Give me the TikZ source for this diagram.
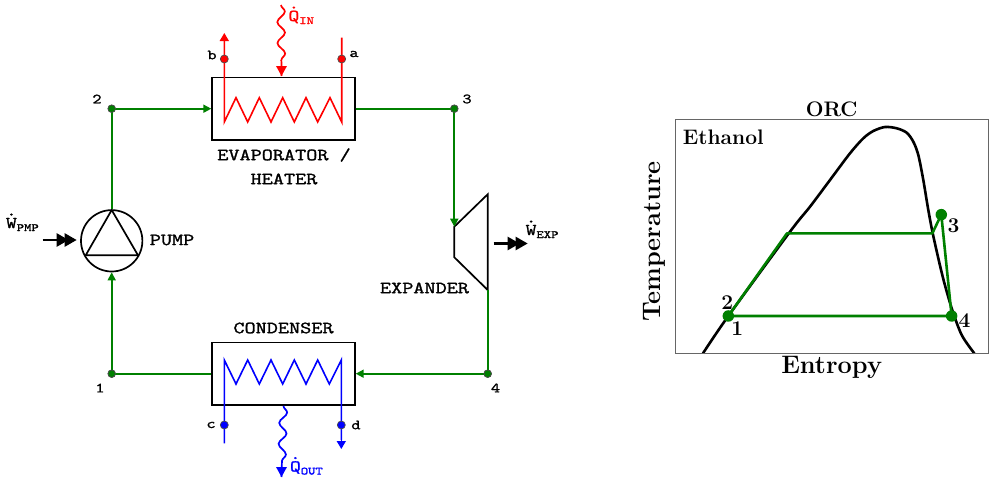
\documentclass[tikz,border=0pt]{standalone}
\usepackage{fontspec}
\usetikzlibrary{arrows.meta,decorations.pathmorphing,calc}
\newfontfamily\ttbold[FakeBold=1.6,FakeStretch=1.27]{Latin Modern Mono}
\definecolor{gflow}{RGB}{0,128,0}
\definecolor{redf}{RGB}{255,0,0}
\definecolor{bluef}{RGB}{0,0,255}
\newcommand{\ttl}[1]{{\fontsize{17}{19}\ttbold #1}}
\newcommand{\tts}[1]{{\fontsize{14}{16}\ttbold #1}}
\newcommand{\qtylab}[2]{{\fontsize{16.5}{18}\ttbold\ooalign{#1\cr\hidewidth\raisebox{12.5pt}{.}\hidewidth\cr}}\raisebox{-3pt}{\fontsize{11}{12}\ttbold #2}}
\tikzset{
 lbl/.style={inner sep=0pt,outer sep=0pt},
 qlbl/.style={lbl,anchor=base west},
 comp/.style={draw=black,line width=1.7pt,line join=miter},
 flow/.style={draw=gflow,line width=1.7pt},
 farrow/.style={flow,-{Triangle[length=8pt,width=8pt]}},
 coil/.style={line width=1.6pt,line join=miter},
 stub/.style={-{Triangle[length=8pt,width=9pt]}},
 qhead/.style={line width=1.6pt,-{Triangle[length=10pt,width=10.5pt]}},
 pt/.style={circle,inner sep=0pt,minimum size=8pt,draw=black!70,line width=0.7pt},
 gpt/.style={circle,fill=gflow,inner sep=0pt,minimum size=7.5pt,draw=black!70,line width=0.7pt},
 heat/.style={line width=1.7pt,decorate,decoration={snake,segment length=21pt,amplitude=3.8pt,post length=10pt}},
 work/.style={line width=2.3pt,-{Triangle[length=12pt,width=13pt,sep=-4pt]Triangle[length=12pt,width=13pt]}},
 tsl/.style={inner sep=0pt,font=\fontfamily{lmr}\bfseries\fontsize{21}{23}\selectfont},
 tsb/.style={inner sep=0pt,font=\fontfamily{lmr}\bfseries\fontsize{25.3}{27}\selectfont},
 tsp/.style={circle,fill=gflow,inner sep=0pt,minimum size=11.5pt},
 cyc/.style={draw=gflow,line width=2.6pt,line join=round},
}
\begin{document}
\begin{tikzpicture}[x=1pt,y=-1pt]
\useasboundingbox (0,0) rectangle (989,479);
% components
\node[comp,draw,minimum width=142.7pt,minimum height=62.7pt,inner sep=0pt] (evap) at (283.5,108.7) {};
\node[comp,draw,minimum width=142.7pt,minimum height=62.7pt,inner sep=0pt] (cond) at (283.5,373.7) {};
\node[draw=black,circle,line width=1.7pt,minimum size=61.4pt,inner sep=0pt] (pump) at (111.7,240.8) {};
\coordinate (ptop) at (111.7,210);
\coordinate (pbl) at (85.7,255.3);
\coordinate (pbr) at (138,255.3);
\draw[comp] (ptop) -- (pbl) -- (pbr) -- cycle;
\coordinate (xa) at (454.3,226.7);
\coordinate (xb) at (487.7,194.3);
\coordinate (xc) at (487.7,290);
\coordinate (xd) at (454.3,257.3);
\draw[comp] (xa) -- (xb) -- (xc) -- (xd) -- cycle;
% state points
\node[gpt] (p2) at (111.7,108.7) {};
\node[gpt] (p3) at (454.3,108.7) {};
\node[gpt] (p1) at (111.7,373.7) {};
\node[gpt] (p4) at (487.7,373.7) {};
% flow
\draw[flow] (pump.north) -- (p2.center);
\draw[farrow] (p2.center) -- (evap.west);
\draw[flow] (evap.east) -- (p3.center);
\draw[farrow] (p3.center) -- (xa);
\draw[flow] (xc) -- (p4.center);
\draw[farrow] (p4.center) -- (cond.east);
\draw[flow] (cond.west) -- (p1.center);
\draw[farrow] (p1.center) -- (pump.south);
\node[gpt] at (p2) {};\node[gpt] at (p3) {};\node[gpt] at (p1) {};\node[gpt] at (p4) {};
% evaporator coil
\coordinate (atop) at (341.7,37.7);
\coordinate (btop) at (224.3,33);
\draw[redf,coil] (atop) -- (341.7,122) -- (330,97.7) -- (317.7,122) -- (306,97.7) -- (294.3,122) -- (282.7,97.7) -- (271,122) -- (259.3,97.7) -- (247.7,122) -- (236,97.7) -- (224.3,122) -- (224.3,40);
\draw[redf,coil,stub] (224.3,45) -- (btop);
\node[pt,fill=redf] (a) at (341.7,59) {};
\node[pt,fill=redf] (b) at (224.3,59) {};
\node[lbl] (la) at (354,54) {\tts{a}};
\node[lbl] (lb) at (212,55) {\tts{b}};
% condenser coil
\coordinate (cbot) at (224.3,443.3);
\coordinate (dbot) at (341.3,449);
\draw[bluef,coil] (cbot) -- (224.3,360) -- (236,384) -- (247.7,360) -- (259.3,384) -- (271,360) -- (282.7,384) -- (294.3,360) -- (306,384) -- (317.7,360) -- (329.3,384) -- (341.3,360) -- (341.3,440);
\draw[bluef,coil,stub] (341.3,432) -- (dbot);
\node[pt,fill=bluef] (c) at (224.3,425) {};
\node[pt,fill=bluef] (d) at (341.3,425) {};
\node[lbl] (lc) at (211,425) {\tts{c}};
\node[lbl] (ld) at (356,425) {\tts{d}};
% heat
\coordinate (qi0) at (281,5);
\coordinate (qi1) at (281.5,76);
\draw[redf,heat] (qi0) -- (qi1);
\draw[redf,qhead] (281.5,64) -- (qi1);
\coordinate (qo1) at (281.5,477);
\draw[bluef,heat] (cond.south) -- (qo1);
\draw[bluef,qhead] (281.5,465) -- (qo1);
\node[qlbl,text=redf] (qin) at (288.5,21) {\qtylab{Q}{IN}};
\node[qlbl,text=bluef] (qout) at (290,471.5) {\qtylab{Q}{OUT}};
% work
\coordinate (wp0) at (42.7,240);
\coordinate (wp1) at (76.7,240);
\draw[work] (wp0) -- (wp1);
\coordinate (we0) at (493.7,243.5);
\coordinate (we1) at (527.7,243.5);
\draw[work] (we0) -- (we1);
\node[qlbl] (wpl) at (6,228) {\qtylab{W}{PMP}};
\node[qlbl] (wel) at (525.7,235) {\qtylab{W}{EXP}};
% labels
\node[lbl] (lpump) at (172,240) {\ttl{PUMP}};
\node[lbl] (lexp) at (424.5,288) {\ttl{EXPANDER}};
\node[lbl] (lcond) at (283.5,328) {\ttl{CONDENSER}};
\node[lbl] (levap) at (284,155) {\ttl{EVAPORATOR /}};
\node[lbl] (lheat) at (284,179) {\ttl{HEATER}};
\node[lbl] (n2) at (97,99) {\tts{2}};
\node[lbl] (n3) at (467,99) {\tts{3}};
\node[lbl] (n1) at (100,388) {\tts{1}};
\node[lbl] (n4) at (495.5,388) {\tts{4}};
% T-s chart
\draw[black,line width=2.6pt] plot[smooth,tension=0.5] coordinates {(703,353.3) (728.3,316) (790,231.7) (810,206.7) (830,180) (850,153.3) (863.3,138.3) (873.3,131) (885,127) (896.7,128.3) (906.7,132.7) (913.3,141.7) (918.3,155) (923.3,180) (928.3,210) (933.3,236) (942.7,276.7) (951.7,308.3) (961.7,335) (974.3,353.3)};
\begin{scope}[shift={(640,95)},x=0.3333pt,y=-0.3333pt]
\node[tsp] (s1) at (265,663) {};
\node[tsp] (s3) at (904,359) {};
\node[tsp] (s4) at (935,663) {};
\coordinate (sa) at (441,415);
\coordinate (sb) at (877,415);
\draw[cyc] (s1.center) -- (sa) -- (sb) -- (s3.center) -- (s4.center) -- cycle;
\draw[gray!80!black,line width=1pt] (105,75) rectangle (1045,775);
\node[tsl] (t1) at (292,700) {1};
\node[tsl] (t2) at (262,622) {2};
\node[tsl] (t3) at (941,392) {3};
\node[tsl] (t4) at (974,676) {4};
\node[tsl] (teth) at (250,126) {Ethanol};
\node[tsl] (torc) at (575,42) {ORC};
\node[tsb] (tent) at (575,818) {Entropy};
\node[tsb,rotate=90] (ttemp) at (42,440) {Temperature};
\end{scope}
\end{tikzpicture}
\end{document}
